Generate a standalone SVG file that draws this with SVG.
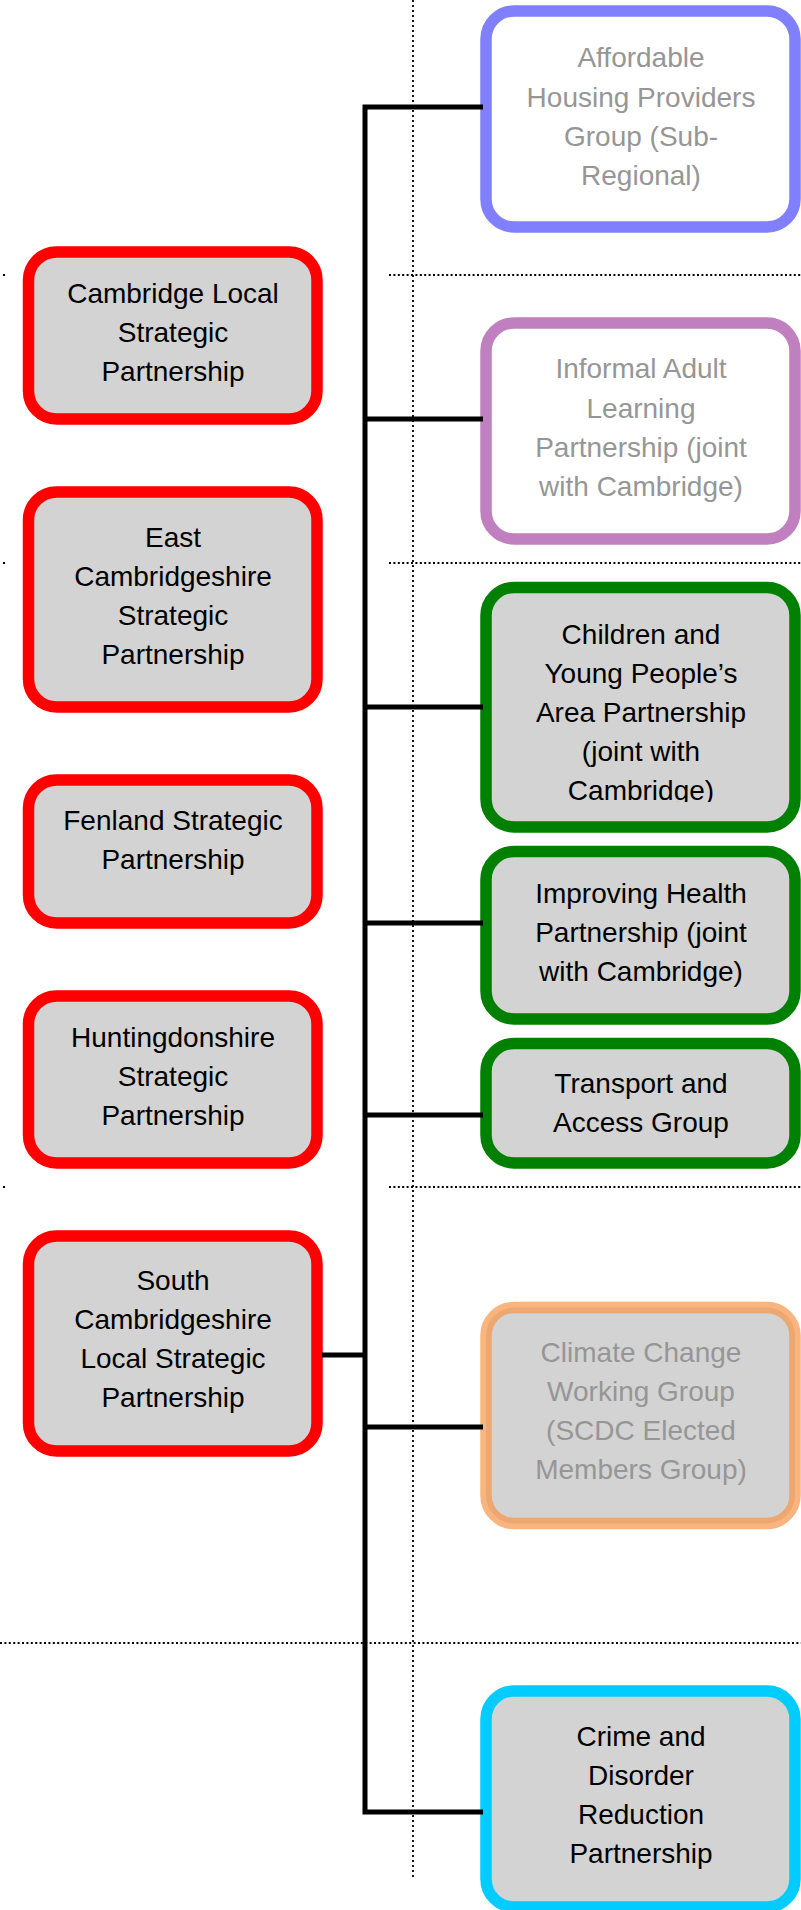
<svg xmlns="http://www.w3.org/2000/svg" width="801" height="1910" viewBox="0 0 801 1910">
<style>
.box{stroke-width:11.5}
.red{fill:#D3D3D3;stroke:#FF0000}
.green{fill:#D3D3D3;stroke:#008000}
.blue{fill:#FFFFFF;stroke:#8080FF}
.purple{fill:#FFFFFF;stroke:#C080C0}
.orange{fill:#D3D3D3;stroke:#F79646;stroke-opacity:0.7}
.cyan{fill:#D3D3D3;stroke:#00CCFF}
text{font-family:"Liberation Sans",Arial,sans-serif;font-size:28px;text-anchor:middle}
.dark{fill:#000000}
.grey{fill:#969696}
.dot{stroke:#000000;stroke-width:2;stroke-dasharray:2 2.4;fill:none}
.vdot{stroke:#000000;stroke-width:1.8;stroke-dasharray:2 3;fill:none}
.conn{stroke:#000000;stroke-width:5;fill:none}
</style>
<defs>
<clipPath id="clipChildren"><rect x="480" y="580" width="321" height="222"/></clipPath>
</defs>
<g id="guides">
<line class="vdot" x1="413" y1="0" x2="413" y2="1880"/>
<line class="dot" x1="389" y1="275" x2="801" y2="275"/>
<line class="dot" x1="3" y1="275" x2="5" y2="275"/>
<line class="dot" x1="389" y1="563" x2="801" y2="563"/>
<line class="dot" x1="3" y1="563" x2="5" y2="563"/>
<line class="dot" x1="389" y1="1187" x2="801" y2="1187"/>
<line class="dot" x1="3" y1="1187" x2="5" y2="1187"/>
<line class="dot" x1="0" y1="1643" x2="801" y2="1643"/>
</g>
<g id="n-affordable">
<rect class="box blue" x="486" y="11" width="309" height="216" rx="28"/>
<text class="grey"><tspan x="641" y="67">Affordable</tspan><tspan x="641" y="107">Housing Providers</tspan><tspan x="641" y="146">Group (Sub-</tspan><tspan x="641" y="185">Regional)</tspan></text>
</g>
<g id="n-informal">
<rect class="box purple" x="486" y="323" width="309" height="216" rx="28"/>
<text class="grey"><tspan x="641" y="378">Informal Adult</tspan><tspan x="641" y="418">Learning</tspan><tspan x="641" y="457">Partnership (joint</tspan><tspan x="641" y="496">with Cambridge)</tspan></text>
</g>
<g id="n-children">
<rect class="box green" x="486" y="587.5" width="309" height="239.5" rx="28"/>
<text class="dark" clip-path="url(#clipChildren)"><tspan x="641" y="644">Children and</tspan><tspan x="641" y="683">Young People’s</tspan><tspan x="641" y="722">Area Partnership</tspan><tspan x="641" y="761">(joint with</tspan><tspan x="641" y="800">Cambridge)</tspan></text>
</g>
<g id="n-improving">
<rect class="box green" x="486" y="851.5" width="309" height="167.5" rx="28"/>
<text class="dark"><tspan x="641" y="903">Improving Health</tspan><tspan x="641" y="942">Partnership (joint</tspan><tspan x="641" y="981">with Cambridge)</tspan></text>
</g>
<g id="n-transport">
<rect class="box green" x="486" y="1043.5" width="309" height="119.5" rx="28"/>
<text class="dark"><tspan x="641" y="1093">Transport and</tspan><tspan x="641" y="1132">Access Group</tspan></text>
</g>
<g id="n-climate">
<rect class="box orange" x="486" y="1307.5" width="309" height="216" rx="28"/>
<text class="grey"><tspan x="641" y="1362">Climate Change</tspan><tspan x="641" y="1401">Working Group</tspan><tspan x="641" y="1440">(SCDC Elected</tspan><tspan x="641" y="1479">Members Group)</tspan></text>
</g>
<g id="n-crime">
<rect class="box cyan" x="486" y="1691" width="309" height="216" rx="28"/>
<text class="dark"><tspan x="641" y="1746">Crime and</tspan><tspan x="641" y="1785">Disorder</tspan><tspan x="641" y="1824">Reduction</tspan><tspan x="641" y="1863">Partnership</tspan></text>
</g>
<g id="n-cambridge">
<rect class="box red" x="28.5" y="252" width="288.5" height="167" rx="28"/>
<text class="dark"><tspan x="173" y="303">Cambridge Local</tspan><tspan x="173" y="342">Strategic</tspan><tspan x="173" y="381">Partnership</tspan></text>
</g>
<g id="n-east">
<rect class="box red" x="28.5" y="492" width="288.5" height="215" rx="28"/>
<text class="dark"><tspan x="173" y="547">East</tspan><tspan x="173" y="586">Cambridgeshire</tspan><tspan x="173" y="625">Strategic</tspan><tspan x="173" y="664">Partnership</tspan></text>
</g>
<g id="n-fenland">
<rect class="box red" x="28.5" y="780" width="288.5" height="143" rx="28"/>
<text class="dark"><tspan x="173" y="830">Fenland Strategic</tspan><tspan x="173" y="869">Partnership</tspan></text>
</g>
<g id="n-huntingdonshire">
<rect class="box red" x="28.5" y="996" width="288.5" height="167" rx="28"/>
<text class="dark"><tspan x="173" y="1047">Huntingdonshire</tspan><tspan x="173" y="1086">Strategic</tspan><tspan x="173" y="1125">Partnership</tspan></text>
</g>
<g id="n-south">
<rect class="box red" x="28.5" y="1236" width="288.5" height="215" rx="28"/>
<text class="dark"><tspan x="173" y="1290">South</tspan><tspan x="173" y="1329">Cambridgeshire</tspan><tspan x="173" y="1368">Local Strategic</tspan><tspan x="173" y="1407">Partnership</tspan></text>
</g>
<g id="connectors">
<path class="conn" d="M483,107 H365 V1812 H483"/>
<line class="conn" x1="365" y1="419" x2="483" y2="419"/>
<line class="conn" x1="365" y1="707" x2="483" y2="707"/>
<line class="conn" x1="365" y1="923" x2="483" y2="923"/>
<line class="conn" x1="365" y1="1115" x2="483" y2="1115"/>
<line class="conn" x1="365" y1="1427" x2="483" y2="1427"/>
<line class="conn" x1="322" y1="1355" x2="365" y2="1355"/>
</g>
</svg>
